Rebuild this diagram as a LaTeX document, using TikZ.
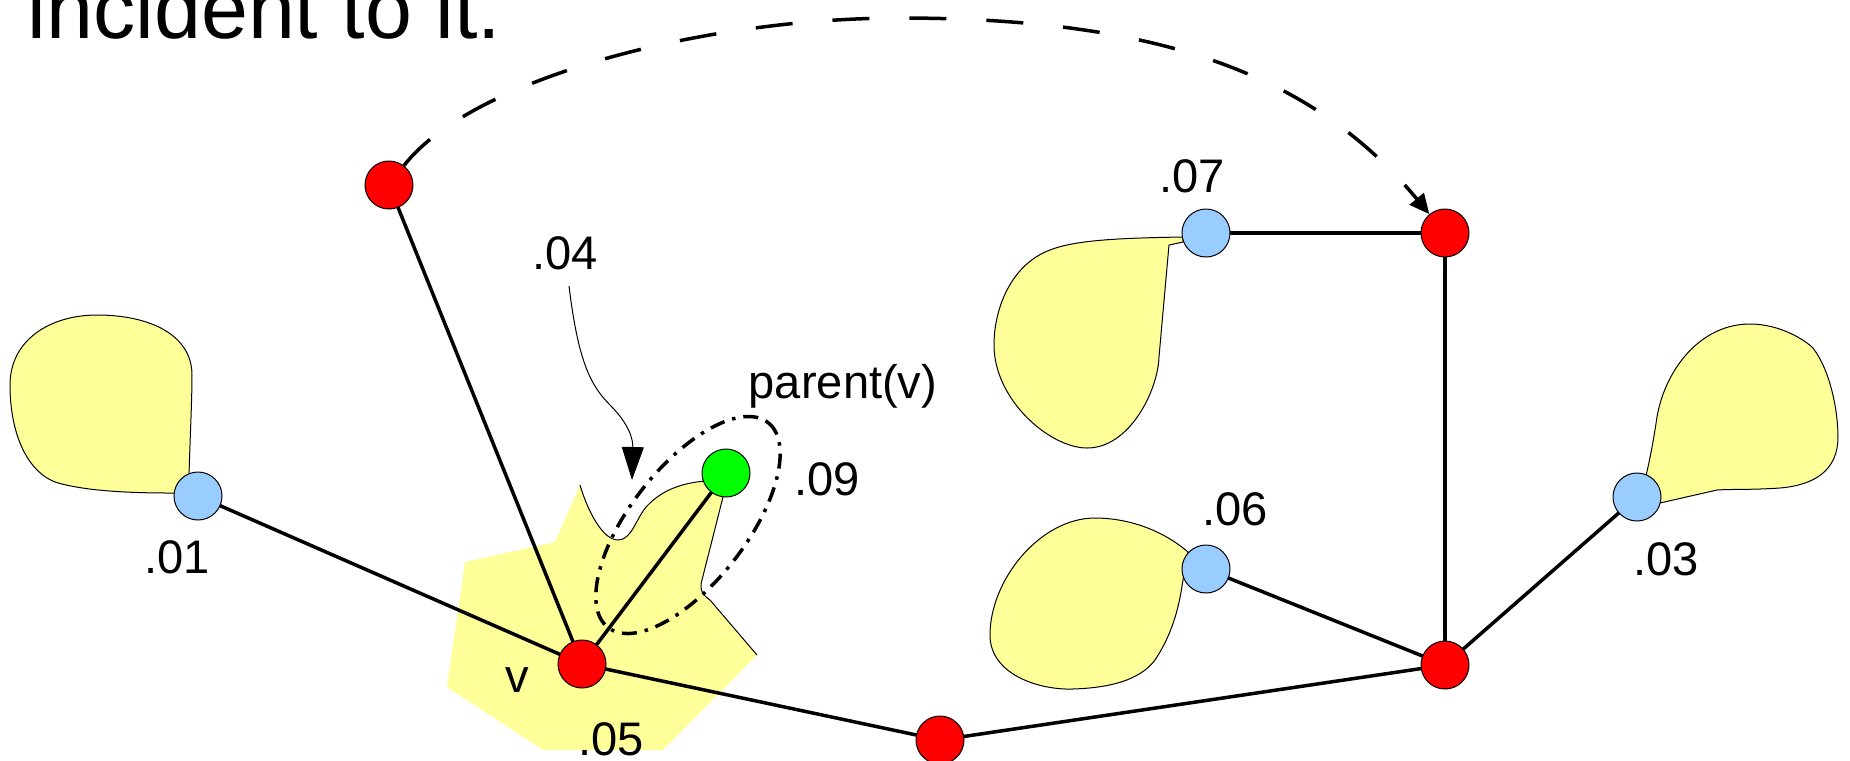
\documentclass[tikz,border=0pt]{standalone}
\usepackage{fontspec}
\setmainfont{Liberation Sans}
\usetikzlibrary{arrows.meta}

\definecolor{amarillo}{RGB}{255,255,153}
\definecolor{celeste}{RGB}{153,204,255}

\tikzset{
	vert/.style={circle, draw=black, line width=0.1mm, minimum size=4.8mm, inner sep=0pt},
	arista/.style={line width=0.35mm},
	mancha/.style={fill=amarillo, draw=black, line width=0.1mm},
	etiq/.style={font=\fontsize{13.4}{16}\selectfont, anchor=base, inner sep=0pt}
}

\begin{document}
\begin{tikzpicture}[x=0.1mm, y=-0.1mm]

	\useasboundingbox (0,0) rectangle (1850,760);

	\node[font=\fontsize{24}{29}\selectfont, anchor=base west, inner sep=0pt] (titulo) at (27,38) {incident to it.};

% Manchas
	\filldraw[mancha] (189,475) .. controls (190,440) and (192,400) .. (192,375) .. controls (192,335) and (150,315) .. (97,315)
		.. controls (50,315) and (10,340) .. (10,385) .. controls (10,430) and (25,470) .. (55,482)
		.. controls (90,493) and (150,493) .. (175,493) -- cycle;

	\filldraw[mancha] (1183,237) .. controls (1120,238) and (1075,240) .. (1050,250) .. controls (1010,265) and (994,310) .. (994,345)
		.. controls (994,400) and (1050,448) .. (1087,448) .. controls (1130,448) and (1158,390) .. (1159,357)
		-- (1169,245) -- (1183,242) -- cycle;

	\filldraw[mancha] (1188,552) .. controls (1160,528) and (1125,518) .. (1095,518) .. controls (1040,518) and (990,580) .. (990,635)
		.. controls (990,675) and (1040,690) .. (1072,689) .. controls (1110,688) and (1140,680) .. (1155,660)
		.. controls (1175,630) and (1180,600) .. (1183,580) -- cycle;

	\filldraw[mancha] (1646,476) .. controls (1652,450) and (1655,430) .. (1657,417) .. controls (1665,370) and (1700,324) .. (1750,324)
		.. controls (1780,324) and (1805,340) .. (1813,348) .. controls (1830,370) and (1838,410) .. (1838,437)
		.. controls (1838,470) and (1815,485) .. (1780,488) .. controls (1750,490) and (1730,489) .. (1717,490)
		-- (1660,503) -- cycle;

% Region de v
	\fill[amarillo] (580,485) .. controls (588,512) and (603,540) .. (618,540) .. controls (632,540) and (636,518) .. (647,506)
		.. controls (662,490) and (682,483) .. (705,481) -- (723,497) -- (702,580) .. controls (699,590) and (703,595) .. (710,600)
		-- (757,655) -- (663,750) -- (543,750) -- (447,687) -- (465,562) -- (555,542) -- cycle;
	\draw[line width=0.1mm] (580,485) .. controls (588,512) and (603,540) .. (618,540) .. controls (632,540) and (636,518) .. (647,506)
		.. controls (662,490) and (682,483) .. (705,481);
	\draw[line width=0.1mm] (723,497) -- (702,580) .. controls (699,590) and (703,595) .. (710,600) -- (757,655);

	\draw[arista, dash pattern=on 1.5mm off 0.8mm on 0.35mm off 0.8mm, rotate around={52:(688,525)}]
		(688,525) ellipse [x radius=130, y radius=58];

% Nodos
	\foreach \n/\x/\y in {a/389/185, b/1445/233, v/582/664, p/726/473, c/940/740,
		d/1445/665, h1/198/496, h3/1637/497, h6/1206/569, h7/1206/233}
		\coordinate (\n) at (\x,\y);

	\foreach \a/\b in {a/v, h1/v, v/p, v/c, c/d, d/h6, d/b, b/h7, d/h3}
		\draw[arista] (\a) -- (\b);

	\foreach \n/\c in {a/red, b/red, v/red, p/green, c/red, d/red, h1/celeste, h3/celeste, h6/celeste, h7/celeste}
		\node[vert, fill=\c] (\n) at (\n) {};

% Etiquetas
	\node[etiq] (l01) at (177,573) {.01};
	\node[etiq] (l03) at (1666,575) {.03};
	\node[etiq] (l04) at (565,269) {.04};
	\node[etiq] (l05) at (611,755) {.05};
	\node[etiq] (l06) at (1235,525) {.06};
	\node[etiq] (l07) at (1192,192) {.07};
	\node[etiq] (l09) at (827,495) {.09};
	\node[etiq] (lv) at (517,692) {v};
	\node[etiq] (lpadre) at (843,398) {parent(v)};

% Flechas
	\coordinate (punta) at (632,480);
	\draw[line width=0.1mm, shorten <=1.6mm, -{Triangle[length=3.3mm, width=2.2mm]}] (l04) .. controls (578,360) and (590,385) .. (610,405)
		.. controls (630,425) and (633,440) .. (punta);

	\draw[arista, dash pattern=on 3.7mm off 4mm, -{Triangle[length=2mm, width=1.8mm]}] (a) .. controls (470,80) and (700,18) .. (900,18)
		.. controls (1150,18) and (1310,70) .. (b);

\end{tikzpicture}
\end{document}
